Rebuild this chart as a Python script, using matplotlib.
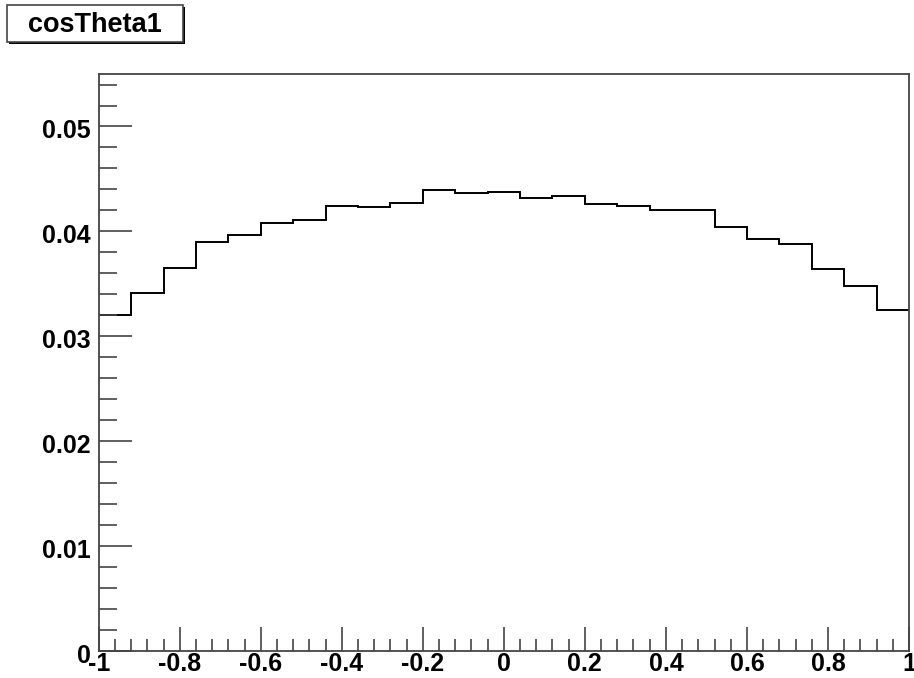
import matplotlib

matplotlib.use("Agg")
import matplotlib.pyplot as plt
import numpy as np
from matplotlib.patches import Rectangle
from matplotlib.ticker import MultipleLocator
from matplotlib.transforms import ScaledTranslation

plt.rcParams["font.family"] = ["Liberation Sans", "DejaVu Sans"]
plt.rcParams["font.weight"] = "bold"

HIST_TITLE = "cosTheta1"
X_MIN, X_MAX = -1.0, 1.0
N_BINS = 25

# normalised bin contents of cos(theta1)
BIN_CONTENTS = [
    0.0320, 0.0341, 0.0365, 0.0390, 0.0397,
    0.0408, 0.0411, 0.0424, 0.0423, 0.0427,
    0.0439, 0.0437, 0.0438, 0.0432, 0.0434,
    0.0426, 0.0424, 0.0420, 0.0420, 0.0404,
    0.0393, 0.0388, 0.0364, 0.0348, 0.0325,
]


def tick_fmt(v, pos):
    v = round(v, 6)
    return "0" if v == 0 else f"{v:g}"


def main() -> None:
    edges = np.linspace(X_MIN, X_MAX, N_BINS + 1)

    fig = plt.figure(figsize=(9.14, 6.78), dpi=100)
    ax = fig.add_axes([0.108, 0.0398, 0.8865, 0.851])

    ax.stairs(BIN_CONTENTS, edges, baseline=None, color="black", linewidth=1.4)

    ax.set_xlim(X_MIN, X_MAX)
    ax.set_ylim(0.0, 0.055)

    ax.xaxis.set_major_locator(MultipleLocator(0.2))
    ax.xaxis.set_minor_locator(MultipleLocator(0.04))
    ax.yaxis.set_major_locator(MultipleLocator(0.01))
    ax.yaxis.set_minor_locator(MultipleLocator(0.002))
    ax.xaxis.set_major_formatter(tick_fmt)
    ax.yaxis.set_major_formatter(tick_fmt)

    frame_col = "#444444"
    for spine in ax.spines.values():
        spine.set_color(frame_col)
        spine.set_linewidth(1.3)

    ax.tick_params(axis="both", which="both", direction="in", colors=frame_col,
                   labelcolor="black", width=1.2, labelsize=18)
    ax.tick_params(axis="x", which="major", length=17, pad=1.0)
    ax.tick_params(axis="x", which="minor", length=9)
    ax.tick_params(axis="y", which="major", length=24, pad=5.5)
    ax.tick_params(axis="y", which="minor", length=13)

    # ROOT puts the y labels a touch below their ticks
    shift = ScaledTranslation(0, -1.5 / 72, fig.dpi_scale_trans)
    for lab in ax.get_yticklabels():
        lab.set_transform(lab.get_transform() + shift)

    # title box with drop shadow, in pixel units of the 914x678 canvas
    W, H = 914.0, 678.0
    bx, by, bw, bh = 7, 5, 176, 37
    fig.add_artist(Rectangle(((bx + 2) / W, 1 - (by + bh + 2) / H), bw / W, bh / H,
                             transform=fig.transFigure, facecolor="black",
                             edgecolor="none"))
    fig.add_artist(Rectangle((bx / W, 1 - (by + bh) / H), bw / W, bh / H,
                             transform=fig.transFigure, facecolor="white",
                             edgecolor="#444444", linewidth=1.2))
    fig.text((bx + bw / 2) / W, 1 - (by + bh / 2 + 1) / H, HIST_TITLE,
             ha="center", va="center", fontsize=19.5, fontweight="bold")

    fig.savefig("out.png", dpi=100)
    plt.close(fig)


if __name__ == "__main__":
    main()
